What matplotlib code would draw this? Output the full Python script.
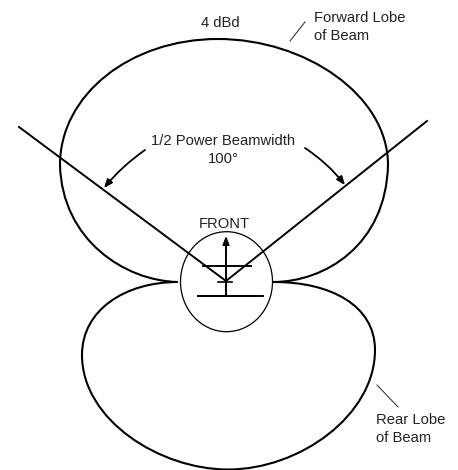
import matplotlib
matplotlib.use('Agg')
import matplotlib.pyplot as plt
from matplotlib.patches import Ellipse, PathPatch
from matplotlib.path import Path

plt.rcParams['font.family'] = ['Liberation Sans', 'DejaVu Sans']

# Lobe outlines as bezier anchors and handles in image pixels
forward_lobe_x = [178, 125, 62, 60, 60, 130, 218, 305, 388, 388, 386, 325, 273]
forward_lobe_y = [282, 281, 240, 165, 95, 39, 39, 39, 95, 165, 245, 282, 282]
rear_lobe_x = [178, 125, 82, 82, 82, 160, 228, 300, 375, 375, 375, 330, 274]
rear_lobe_y = [282, 282, 310, 355, 420, 469.5, 469.5, 469.5, 415, 350, 305, 282, 282]
beam_left_x = [19, 226]
beam_left_y = [127, 281]
beam_right_x = [427, 226]
beam_right_y = [121, 281]


def bezier_path(xs, ys):
    """One moveto, then every three points make a cubic segment."""
    codes = [Path.MOVETO] + [Path.CURVE4] * (len(xs) - 1)
    return Path(list(zip(xs, ys)), codes)


fig = plt.figure(figsize=(4.58, 4.70), dpi=100)
ax = fig.add_axes([0, 0, 1, 1])
ax.set_xlim(0, 458)
ax.set_ylim(470, 0)
ax.axis('off')

# Lobes
for xs, ys in [(forward_lobe_x, forward_lobe_y), (rear_lobe_x, rear_lobe_y)]:
    ax.add_patch(PathPatch(bezier_path(xs, ys), fill=False, ec='black', lw=1.5))

# Beam edges
ax.plot(beam_left_x, beam_left_y, color='black', lw=1.4)
ax.plot(beam_right_x, beam_right_y, color='black', lw=1.4)

# Circle and antenna symbol
ax.add_patch(Ellipse((226.5, 281.7), 92, 100, fill=False, ec='black', lw=0.9))
ax.plot([226, 226], [295.7, 245], color='black', lw=1.4)
ax.plot([203, 250.7], [265.7, 265.7], color='black', lw=1.4)
ax.plot([218, 232], [282, 282], color='black', lw=1.2)
ax.plot([197.7, 262.7], [295.7, 295.7], color='black', lw=1.4)
ax.annotate('', xy=(226, 236), xytext=(226, 250),
            arrowprops=dict(arrowstyle='-|>,head_length=0.5,head_width=0.2', color='black', lw=1.2,
                            shrinkA=0, shrinkB=0))

# Beamwidth arrows
ax.annotate('', xy=(104, 188), xytext=(145, 150),
            arrowprops=dict(arrowstyle='-|>,head_length=0.5,head_width=0.2', color='black', lw=1.3,
                            shrinkA=0, shrinkB=0, connectionstyle='arc3,rad=0.07'))
ax.annotate('', xy=(345, 185), xytext=(305, 148),
            arrowprops=dict(arrowstyle='-|>,head_length=0.5,head_width=0.2', color='black', lw=1.3,
                            shrinkA=0, shrinkB=0, connectionstyle='arc3,rad=-0.08'))

# Leader lines
ax.plot([305, 290], [22, 41], color='#222222', lw=0.7)
ax.plot([377, 398], [385, 407], color='#222222', lw=0.7)

# Labels
txt = dict(fontsize=10.6, color='#222222', va='center')
ax.text(220, 23, '4 dBd', ha='center', **txt)
ax.text(314, 18, 'Forward Lobe', ha='left', **txt)
ax.text(314, 36, 'of Beam', ha='left', **txt)
ax.text(223, 141, '1/2 Power Beamwidth', ha='center', **txt)
ax.text(223, 159, '100°', ha='center', **txt)
ax.text(224, 224, 'FRONT', ha='center', **txt)
ax.text(376.5, 420, 'Rear Lobe', ha='left', **txt)
ax.text(376.5, 438, 'of Beam', ha='left', **txt)

fig.savefig('out.png', dpi=100)
